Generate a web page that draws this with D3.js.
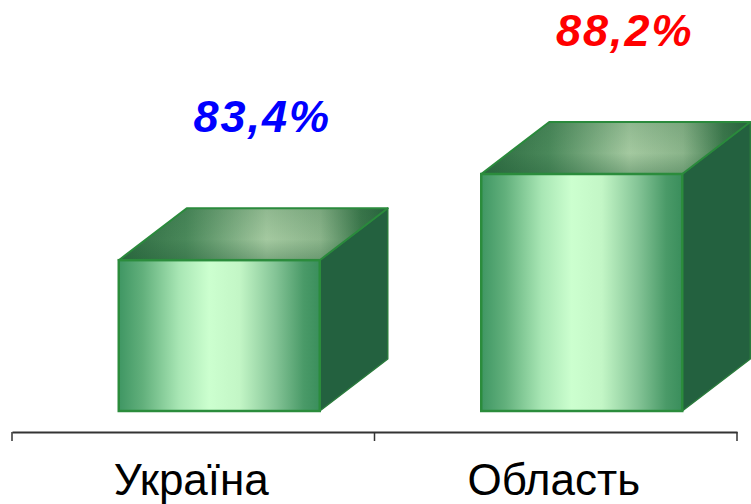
<!DOCTYPE html>
<html><head><meta charset="utf-8">
<script src="https://cdn.jsdelivr.net/npm/d3@7"></script>
<style>html,body{margin:0;padding:0;background:#fff;}svg{display:block;}</style>
</head><body>
<svg id="chart" width="751" height="504"></svg>
<script>
const categories = ["Україна", "Область"];
const values = [83.4, 88.2];
const valueLabels = ["83,4%", "88,2%"];
const labelColors = ["#0000ff", "#ff0000"];

const svg = d3.select("#chart");
const defs = svg.append("defs");

const frontGrad = defs.append("linearGradient").attr("id","front").attr("x1","0").attr("x2","1").attr("y1","0").attr("y2","0");
[[0,"#3f9663"],[0.12,"#62b07c"],[0.3,"#a8e6b4"],[0.45,"#ccffcf"],[0.6,"#c3f6c6"],[0.78,"#84c496"],[0.92,"#4a9a68"],[1,"#3a8e5c"]]
  .forEach(([o,c])=>frontGrad.append("stop").attr("offset",o).attr("stop-color",c));
const topGrad = defs.append("linearGradient").attr("id","topg").attr("x1","0").attr("x2","1").attr("y1","0").attr("y2","0");
[[0,"#2c6a40"],[0.25,"#4a885a"],[0.55,"#a4c9a0"],[0.75,"#8ab48a"],[0.9,"#3c784c"],[1,"#28633e"]]
  .forEach(([o,c])=>topGrad.append("stop").attr("offset",o).attr("stop-color",c));
const topShade = defs.append("linearGradient").attr("id","topshade").attr("x1","0").attr("x2","0").attr("y1","0").attr("y2","1");
[[0,"#1f5a35",0.15],[0.6,"#1f5a35",0],[1,"#1f5a35",0.3]]
  .forEach(([o,c,a])=>topShade.append("stop").attr("offset",o).attr("stop-color",c).attr("stop-opacity",a));

const axisY = 432;
const x = d3.scaleBand().domain(categories).range([12, 737]).paddingInner(0).paddingOuter(0);
const y = d3.scaleLinear().domain([75, 88.2]).range([411, 174]);

const frontW = 201, frontOffset = 26, dx = 68, dy = -52;

categories.forEach((cat, i) => {
  const cx = x(cat) + x.bandwidth()/2 + frontOffset;
  const x0 = cx - frontW/2, x1 = cx + frontW/2;
  const yt = y(values[i]), yb = y(75);
  const g = svg.append("g");
  g.append("path").attr("d", `M${x1},${yt} L${x1+dx},${yt+dy} L${x1+dx},${yb+dy} L${x1},${yb} Z`)
    .attr("fill","#23613f").attr("stroke","#2a7a3c").attr("stroke-width",1.5).attr("stroke-linejoin","round");
  const topD = `M${x0},${yt} L${x0+dx},${yt+dy} L${x1+dx},${yt+dy} L${x1},${yt} Z`;
  g.append("path").attr("d", topD).attr("fill","url(#topg)");
  g.append("path").attr("d", topD).attr("fill","url(#topshade)")
    .attr("stroke","#2a8a3c").attr("stroke-width",2).attr("stroke-linejoin","round");
  g.append("rect").attr("x",x0).attr("y",yt).attr("width",frontW).attr("height",yb-yt)
    .attr("fill","url(#front)").attr("stroke","#2b8c3c").attr("stroke-width",2.5);
  svg.append("text").attr("x", cx + 43).attr("y", yt - 128)
    .attr("text-anchor","middle").attr("font-family","'Liberation Sans', Arial, sans-serif")
    .attr("font-weight","bold").attr("font-style","italic").attr("font-size",45)
    .attr("letter-spacing",2)
    .attr("fill", labelColors[i]).text(valueLabels[i]);
});

const axis = d3.axisBottom(x).tickSize(0).tickFormat("");
const ag = svg.append("g").attr("transform",`translate(0,${axisY})`).call(axis);
ag.select(".domain").attr("stroke","#333").attr("stroke-width",2);
const tickPos = [x.range()[0], ...categories.slice(1).map(c=>x(c)), x.range()[1]];
ag.selectAll(".sep").data(tickPos).enter().append("line").attr("class","sep")
  .attr("x1",d=>d).attr("x2",d=>d).attr("y1",0).attr("y2",9).attr("stroke","#333").attr("stroke-width",1.5);
ag.selectAll(".cat").data(categories).enter().append("text").attr("class","cat")
  .attr("x",d=>x(d)+x.bandwidth()/2 - 2).attr("y",63).attr("text-anchor","middle")
  .attr("font-family","'Liberation Sans', Arial, sans-serif").attr("font-size",44).attr("fill","#000")
  .text(d=>d);
</script>
</body></html>
